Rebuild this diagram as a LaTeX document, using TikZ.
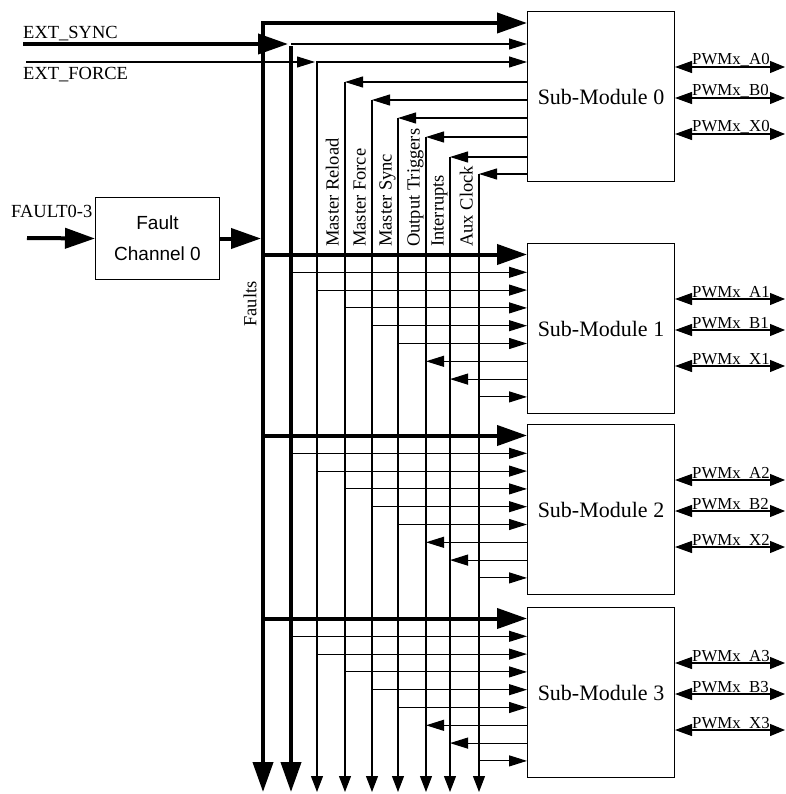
\documentclass[tikz,border=0pt]{standalone}
\usepackage{fontspec}
\setmainfont{Liberation Serif}
\newfontfamily\sansf{Liberation Sans}
\usetikzlibrary{arrows.meta}
\begin{document}
\begin{tikzpicture}[x=1pt,y=-1pt,
  thinl/.style={line width=1.1pt},
  thickl/.style={line width=4pt},
  tarr/.style={-{Triangle[length=18pt,width=11pt]}},
  tboth/.style={{Triangle[length=16pt,width=12pt]}-{Triangle[length=18pt,width=11pt]}},
  Tarr/.style={-{Triangle[length=30pt,width=20pt]}},
  Tboth/.style={{Triangle[length=30pt,width=20pt]}-{Triangle[length=30pt,width=20pt]}},
  smbox/.style={draw, line width=1pt, minimum width=147pt, minimum height=170pt, anchor=north west, inner sep=0pt, font=\fontsize{22}{26}\selectfont},
  fcbox/.style={draw, line width=1pt, minimum width=124pt, minimum height=82pt, anchor=north west, inner sep=0pt, align=center, font=\sansf\fontsize{19}{31}\selectfont},
  lbl/.style={font=\fontsize{18.5}{22}\selectfont, inner sep=0pt},
  vlbl/.style={lbl, rotate=90, anchor=base west},
  pwm/.style={font=\fontsize{16.8}{19}\selectfont, inner sep=0pt, anchor=base west},
  dbl/.style={line width=1.1pt, {Triangle[length=17pt,width=12pt]}-{Triangle[length=15pt,width=12pt]}},
]
\useasboundingbox (0,0) rectangle (785,794);
% bus coordinates
\coordinate (bF) at (263,23);
\coordinate (bS) at (291,44);
\coordinate (bX) at (317,62);
\coordinate (bR) at (345,82);
\coordinate (bM) at (372,100);
\coordinate (bY) at (398,118);
\coordinate (bO) at (426,137);
\coordinate (bI) at (450,157);
\coordinate (bA) at (479,174);
\coordinate (bottom) at (0,792);
% sub-modules
\node[smbox] (sm0) at (527,11) {Sub-Module 0};
\foreach \ty/\k in {243/1,424/2,607/3} {
  \node[smbox] (sm\k) at (527,\ty) {Sub-Module \k};
}
% fault channel
\node[fcbox] (fc) at (95,197) {Fault\\Channel 0};
% labels
\node[lbl, anchor=base west] (lsync) at (23,38.5) {EXT\_SYNC};
\node[lbl, anchor=base west] (lforce) at (23,80) {EXT\_FORCE};
\node[lbl, anchor=base west] (lfault) at (11,218) {FAULT0-3};
\node[lbl, rotate=90] (lfaults) at (250,304) {Faults};
\node[vlbl] (lR) at ([xshift=-6.5pt]bR |- 0,247) {Master Reload};
\node[vlbl] (lM) at ([xshift=-6.5pt]bM |- 0,247) {Master Force};
\node[vlbl] (lY) at ([xshift=-6.5pt]bY |- 0,247) {Master Sync};
\node[vlbl] (lO) at ([xshift=-6.5pt]bO |- 0,247) {Output Triggers};
\node[vlbl] (lI) at ([xshift=-6.5pt]bI |- 0,247) {Interrupts};
\node[vlbl] (lA) at ([xshift=-6.5pt]bA |- 0,247) {Aux Clock};
\coordinate (syncin) at (23,44);
\coordinate (forcein) at (26,62);
\coordinate (faultin) at (27,238);
% top connections
\draw[thickl, Tboth] (bF |- bottom) -- (bF) -- (sm0.west |- bF);
\draw[thickl, Tarr] (syncin) -- ([xshift=-3pt]bS);
\draw[thickl, Tarr] ([yshift=-2pt]bS) -- (bS |- bottom);
\draw[thinl, tarr] (bS) -- (sm0.west |- bS);
\draw[thinl, tarr] (forcein) -- ([xshift=-2pt]bX);
\draw[thinl, tboth] (bX |- bottom) -- (bX) -- (sm0.west |- bX);
\foreach \c in {bR,bM,bY,bO,bI,bA} {
  \draw[thinl, tarr] (sm0.west |- \c) -- (\c);
  \draw[thinl, -{Triangle[length=16pt,width=12pt]}] (\c) -- (\c |- bottom);
}
% fault channel
\draw[thickl, Tarr] (faultin) -- (fc.west);
\draw[thickl, Tarr] (fc.east) -- ([xshift=-2pt]bF |- fc.east);
% sub-modules 1..3
\foreach \k/\ty in {1/243,2/424,3/607} {
  \coordinate (r0) at (0,\ty+11.5);
  \draw[thickl, Tarr] (bF |- r0) -- (sm\k.west |- r0);
  \foreach \c [count=\i] in {bS,bX,bR,bM,bY} {
    \coordinate (ri) at (0,\ty+11.5+17.8*\i);
    \draw[thinl, tarr] (\c |- ri) -- (sm\k.west |- ri);
  }
  \foreach \c [count=\i from 6] in {bO,bI} {
    \coordinate (ri) at (0,\ty+11.5+17.8*\i);
    \draw[thinl, tarr] (sm\k.west |- ri) -- (\c |- ri);
  }
  \coordinate (ri) at (0,\ty+11.5+17.8*8);
  \draw[thinl, tarr] (bA |- ri) -- (sm\k.west |- ri);
}
% PWM outputs
\foreach \k/\ty in {0/11,1/243,2/424,3/607} {
  \foreach \sig/\dy in {A/56,B/87,X/123} {
    \coordinate (p) at (785,\ty+\dy);
    \draw[dbl] (sm\k.east |- p) -- (p);
    \node[pwm] (pwm\sig\k) at (692,\ty+\dy-2) {PWMx\_\sig\k};
  }
}
\end{tikzpicture}
\end{document}
